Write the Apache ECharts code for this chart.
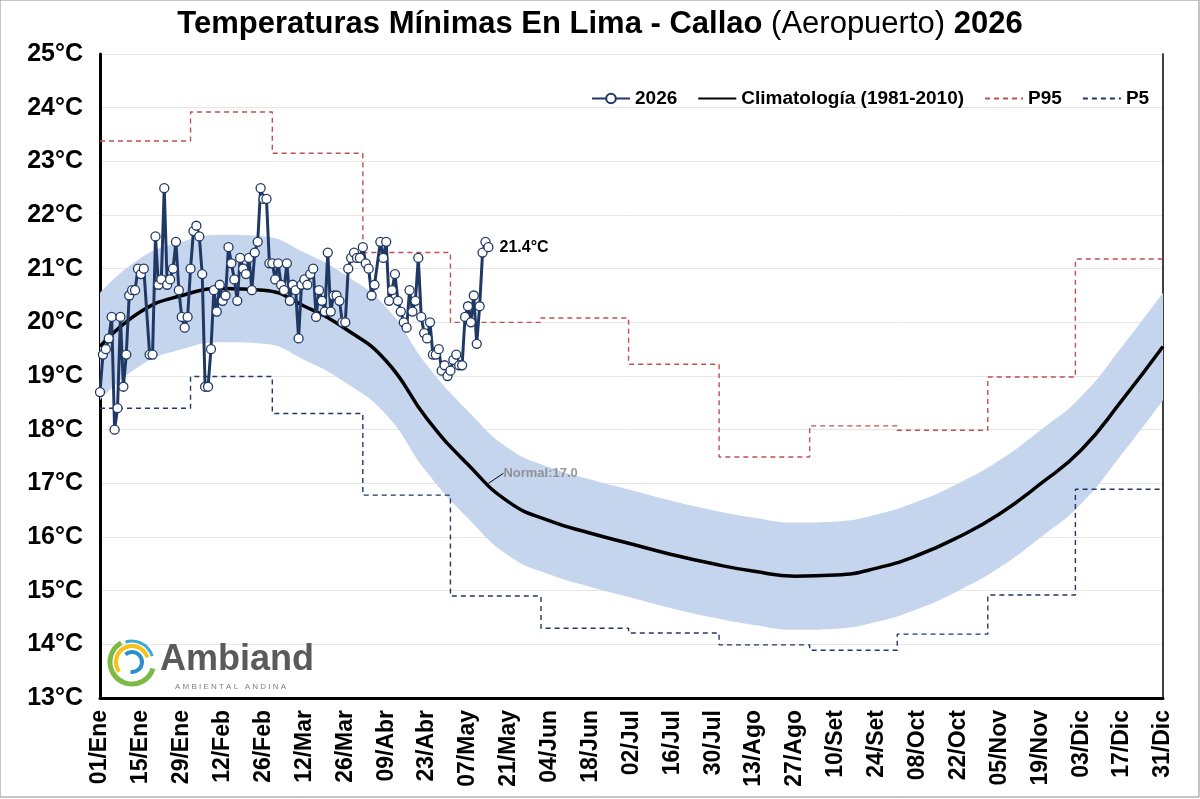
<!DOCTYPE html>
<html>
<head>
<meta charset="utf-8">
<script src="https://cdn.jsdelivr.net/npm/echarts@6/dist/echarts.min.js"></script>
<style>html,body{margin:0;padding:0;background:#fff}#c{width:1200px;height:799px}</style>
</head>
<body>
<div id="c"></div>
<script>
// ---- tick labels (every 14 days, day index from 01/Ene = 0) ----
const xTickLabels = ['01/Ene','15/Ene','29/Ene','12/Feb','26/Feb','12/Mar','26/Mar','09/Abr','23/Abr','07/May','21/May','04/Jun','18/Jun','02/Jul','16/Jul','30/Jul','13/Ago','27/Ago','10/Set','24/Set','08/Oct','22/Oct','05/Nov','19/Nov','03/Dic','17/Dic','31/Dic'];
const tickDays = [0,14,28,42,56,70,84,98,112,126,140,154,168,182,196,210,224,238,252,266,280,294,308,322,336,350,364];

// ---- 2026 daily minimum temperatures (index = day of year, 0 = 01/Ene) ----
const temps2026 = [
  18.7,19.4,19.5,19.7,20.1,18.0,18.4,20.1,18.8,19.4,
  20.5,20.6,20.6,21.0,20.9,21.0,null,19.4,19.4,21.6,
  20.7,20.8,22.5,20.7,20.8,21.0,21.5,20.6,20.1,19.9,
  20.1,21.0,21.7,21.8,21.6,20.9,18.8,18.8,19.5,20.6,
  20.2,20.7,20.4,20.5,21.4,21.1,20.8,20.4,21.2,21.0,
  20.9,21.2,20.6,21.3,21.5,22.5,22.3,22.3,21.1,21.1,
  20.8,21.1,20.7,20.6,21.1,20.4,20.7,20.6,19.7,20.7,
  20.8,20.7,20.9,21.0,20.1,20.6,20.4,20.2,21.3,20.2,
  20.5,20.5,20.4,20.0,20.0,21.0,21.2,21.3,21.2,21.2,
  21.4,21.1,21.0,20.5,20.7,null,21.5,21.2,21.5,20.4,
  20.6,20.9,20.4,20.2,20.0,19.9,20.6,20.2,20.4,21.2,
  20.1,19.8,19.7,20.0,19.4,19.4,19.5,19.1,19.2,19.0,
  19.1,19.3,19.4,19.2,19.2,20.1,20.3,20.0,20.5,19.6,
  20.3,21.3,21.5,21.4
];

// ---- climatology 1981-2010 (read at tick days) and its band ----
const climValues = [19.55,20.20,20.50,20.63,20.60,20.30,19.88,19.28,18.20,17.35,16.65,16.30,16.07,15.87,15.67,15.50,15.36,15.27,15.29,15.42,15.66,16.00,16.43,16.99,17.62,18.55,19.55];
const bandUpper  = [20.55,21.20,21.50,21.63,21.60,21.30,20.88,20.28,19.20,18.35,17.65,17.30,17.07,16.87,16.67,16.50,16.36,16.27,16.29,16.42,16.66,17.00,17.43,17.99,18.62,19.55,20.55];
const bandLower  = [18.55,19.20,19.50,19.63,19.60,19.30,18.88,18.28,17.20,16.35,15.65,15.30,15.07,14.87,14.67,14.50,14.36,14.27,14.29,14.42,14.66,15.00,15.43,15.99,16.62,17.55,18.55];

// ---- monthly percentiles ----
const monthStartDays = [0,31,59,90,120,151,181,212,243,273,304,334];
const p95 = [23.38,23.92,23.15,21.30,20.00,20.08,19.22,17.49,18.07,17.99,18.98,21.18];
const p5  = [18.40,18.99,18.30,16.78,14.90,14.30,14.21,13.99,13.89,14.19,14.92,16.89];
const lastDay = 364;

const normalLabelValue = 17.0;
const lastLabel = '21.4°C';

const yTicks = {min: 13, max: 25, interval: 1};

// ---------------------------------------------------------------
const NAVY = '#203864';
const BAND = '#C6D5EE';
const RED = '#C0504D';
const FONT = "'Liberation Sans', Arial, sans-serif";

const lastIdx = temps2026.length - 1;
const data2026 = temps2026.map((v, i) => {
  if (i === lastIdx) {
    return {value: [i, v], label: {show: true, formatter: lastLabel, position: 'right', distance: 6,
      color: '#000', fontWeight: 'bold', fontSize: 16, fontFamily: FONT}};
  }
  return [i, v];
});
const stepData = arr => monthStartDays.map((d, i) => [d, arr[i]]).concat([[lastDay, arr[arr.length - 1]]]);

const chart = echarts.init(document.getElementById('c'), null, {renderer: 'canvas'});
chart.setOption({
  backgroundColor: '#fff',
  animation: false,
  title: {
    left: 'center', top: 4,
    text: '{b|Temperaturas Mínimas En Lima - Callao }{r|(Aeropuerto)}{b| 2026}',
    textStyle: {
      rich: {
        b: {fontFamily: FONT, fontWeight: 'bold', fontSize: 31, color: '#000'},
        r: {fontFamily: FONT, fontWeight: 'normal', fontSize: 31, color: '#000'}
      }
    }
  },
  legend: {
    data: [
      {name: '2026'},
      {name: 'Climatología (1981-2010)', itemStyle: {opacity: 0}},
      {name: 'P95', itemStyle: {opacity: 0}},
      {name: 'P5', itemStyle: {opacity: 0}}
    ],
    left: 586, top: 84, itemWidth: 38, itemHeight: 12, itemGap: 20,
    textStyle: {fontFamily: FONT, fontWeight: 'bold', fontSize: 19, color: '#000'}
  },
  grid: {left: 100, right: 37, top: 54, bottom: 101},
  xAxis: [{
    type: 'value', min: 0, max: lastDay, interval: 14,
    axisLine: {show: true, onZero: false, lineStyle: {color: '#000', width: 3}},
    axisTick: {show: false},
    splitLine: {show: false},
    axisLabel: {
      rotate: 90, margin: 12, color: '#000', fontWeight: 'bold', fontSize: 23, fontFamily: FONT,
      showMinLabel: true, showMaxLabel: true,
      formatter: v => xTickLabels[tickDays.indexOf(Math.round(v))] || ''
    }
  }, {
    type: 'category', data: tickDays.map(String), boundaryGap: false, show: false
  }],
  yAxis: [{
    type: 'value', min: yTicks.min, max: yTicks.max, interval: yTicks.interval,
    axisLine: {show: true, lineStyle: {color: '#000', width: 3}},
    axisTick: {show: false},
    splitLine: {show: true, lineStyle: {color: '#E6E6E6', width: 1}},
    axisLabel: {margin: 17, color: '#000', fontWeight: 'bold', fontSize: 25, fontFamily: FONT, formatter: '{value}°C'}
  }, {
    type: 'value', position: 'right', min: yTicks.min, max: yTicks.max, interval: yTicks.interval,
    axisLine: {show: true, lineStyle: {color: '#000', width: 1.5}},
    axisTick: {show: false}, axisLabel: {show: false}, splitLine: {show: false}
  }],
  series: [
    {name: 'bandLow', type: 'line', xAxisIndex: 1, stack: 'band', smooth: true, symbol: 'none', silent: true,
     lineStyle: {opacity: 0}, data: bandLower, z: 1},
    {name: 'bandFill', type: 'line', xAxisIndex: 1, stack: 'band', smooth: true, symbol: 'none', silent: true,
     lineStyle: {opacity: 0}, areaStyle: {color: BAND, opacity: 1},
     data: bandUpper.map((u, i) => +(u - bandLower[i]).toFixed(2)), z: 1},
    {name: 'P95', type: 'line', step: 'end', symbol: 'none', color: RED,
     lineStyle: {color: RED, width: 1.4, type: [5, 4]}, data: stepData(p95), z: 2},
    {name: 'P5', type: 'line', step: 'end', symbol: 'none', color: NAVY,
     lineStyle: {color: NAVY, width: 1.4, type: [5, 4]}, data: stepData(p5), z: 2},
    {name: 'Climatología (1981-2010)', type: 'line', smooth: true, symbol: 'none', color: '#000',
     lineStyle: {color: '#000', width: 3.5}, data: tickDays.map((d, i) => [d, climValues[i]]), z: 3},
    {name: '2026', type: 'line', connectNulls: true, symbol: 'circle', symbolSize: 9, color: NAVY,
     lineStyle: {color: NAVY, width: 3},
     itemStyle: {color: '#fff', borderColor: NAVY, borderWidth: 1.3},
     data: data2026, z: 5},
    {name: 'normal', type: 'scatter', symbolSize: 0, silent: true, z: 6,
     data: [[lastIdx, normalLabelValue]],
     label: {show: true, position: 'right', formatter: 'Normal:' + normalLabelValue.toFixed(1),
       color: '#7F7F7F', fontWeight: 'bold', fontSize: 13, fontFamily: FONT},
     labelLayout: {dx: 10, dy: -10},
     labelLine: {show: true, lineStyle: {color: '#000', width: 1}}}
  ],
  graphic: [
    {type: 'rect', x: 0, y: 0, shape: {width: 1199, height: 797}, style: {fill: null, stroke: '#8c8c8c', lineWidth: 1}, silent: true, z: 100},
    {type: 'arc', z: 100, shape: {cx: 132, cy: 662, r: 22, startAngle: 0.3, endAngle: 4.2}, style: {stroke: '#7DB945', lineWidth: 5, fill: null}},
    {type: 'arc', z: 100, shape: {cx: 132, cy: 662, r: 16, startAngle: 2.5, endAngle: 6.0}, style: {stroke: '#F3C316', lineWidth: 4, fill: null}},
    {type: 'arc', z: 100, shape: {cx: 132, cy: 662, r: 10, startAngle: 4.0, endAngle: 8.0}, style: {stroke: '#2A8FCB', lineWidth: 4, fill: null}},
    {type: 'arc', z: 100, shape: {cx: 132, cy: 662, r: 21, startAngle: 4.4, endAngle: 6.0}, style: {stroke: '#3FA9D6', lineWidth: 3, fill: null}},
    {type: 'text', z: 100, x: 160, y: 642, style: {text: 'Ambiand', fill: '#5A5A5A', fontSize: 36, fontWeight: 'bold', fontFamily: FONT}},
    {type: 'text', z: 100, x: 175, y: 683, style: {text: 'A M B I E N T A L   A N D I N A', fill: '#7F7F7F', fontSize: 8, fontFamily: FONT}}
  ]
});
</script>
</body>
</html>
